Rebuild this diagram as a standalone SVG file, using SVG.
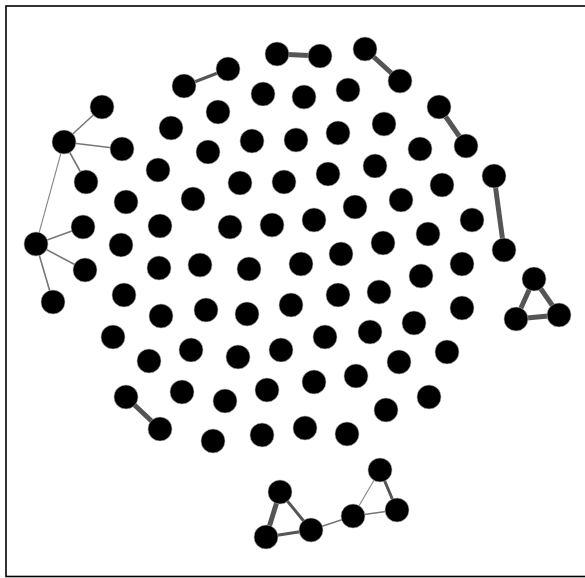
<svg xmlns="http://www.w3.org/2000/svg" width="585" height="578" viewBox="0 0 585 578">
<style>
.n{fill:#000;stroke:#bbb;stroke-width:0.6}
.e{stroke:#555;fill:none;stroke-linecap:butt}
.w5{stroke-width:5}
.w3{stroke-width:3}
.w2{stroke-width:1.6;stroke:#777}
.w1{stroke-width:1.1;stroke:#888}
</style>
<rect x="0" y="0" width="585" height="578" fill="#fff"/>
<rect x="6" y="6" width="600" height="570.5" fill="none" stroke="#000" stroke-width="1.6"/>
<g id="edges">
<line class="e w5" x1="277" y1="54" x2="320" y2="56"/>
<line class="e w5" x1="365" y1="49" x2="400" y2="81"/>
<line class="e w3" x1="184" y1="86" x2="228" y2="69"/>
<line class="e w5" x1="439" y1="107" x2="466" y2="146"/>
<line class="e w5" x1="494" y1="176" x2="504" y2="250"/>
<line class="e w5" x1="534" y1="279" x2="516" y2="319"/>
<line class="e w5" x1="534" y1="279" x2="559" y2="315"/>
<line class="e w5" x1="516" y1="319" x2="559" y2="315"/>
<line class="e w5" x1="126" y1="397" x2="160" y2="429"/>
<line class="e w5" x1="280" y1="492" x2="266" y2="537"/>
<line class="e w3" x1="280" y1="492" x2="311" y2="530"/>
<line class="e w3" x1="266" y1="537" x2="311" y2="530"/>
<line class="e w2" x1="311" y1="530" x2="353" y2="516"/>
<line class="e w1" x1="353" y1="516" x2="380" y2="470"/>
<line class="e w2" x1="353" y1="516" x2="397" y2="510"/>
<line class="e w3" x1="380" y1="470" x2="397" y2="510"/>
<line class="e w2" x1="64" y1="142" x2="102" y2="107"/>
<line class="e w2" x1="64" y1="142" x2="122" y2="149"/>
<line class="e w2" x1="64" y1="142" x2="86" y2="182"/>
<line class="e w1" x1="64" y1="142" x2="36" y2="244"/>
<line class="e w2" x1="36" y1="244" x2="83" y2="227"/>
<line class="e w2" x1="36" y1="244" x2="85" y2="270"/>
<line class="e w2" x1="36" y1="244" x2="53" y2="302"/>
</g>
<g id="nodes">
<circle id="n1" class="n" cx="277" cy="54" r="12"/>
<circle id="n2" class="n" cx="320" cy="56" r="12"/>
<circle id="n3" class="n" cx="365" cy="49" r="12"/>
<circle id="n4" class="n" cx="228" cy="69" r="12"/>
<circle id="n5" class="n" cx="400" cy="81" r="12"/>
<circle id="n6" class="n" cx="184" cy="86" r="12"/>
<circle id="n7" class="n" cx="263" cy="94" r="12"/>
<circle id="n8" class="n" cx="304" cy="97" r="12"/>
<circle id="n9" class="n" cx="348" cy="90" r="12"/>
<circle id="n10" class="n" cx="102" cy="107" r="12"/>
<circle id="n11" class="n" cx="218" cy="112" r="12"/>
<circle id="n12" class="n" cx="439" cy="107" r="12"/>
<circle id="n13" class="n" cx="171" cy="128" r="12"/>
<circle id="n14" class="n" cx="252" cy="141" r="12"/>
<circle id="n15" class="n" cx="296" cy="140" r="12"/>
<circle id="n16" class="n" cx="338" cy="133" r="12"/>
<circle id="n17" class="n" cx="384" cy="124" r="12"/>
<circle id="n18" class="n" cx="64" cy="142" r="12"/>
<circle id="n19" class="n" cx="122" cy="149" r="12"/>
<circle id="n20" class="n" cx="208" cy="152" r="12"/>
<circle id="n21" class="n" cx="420" cy="149" r="12"/>
<circle id="n22" class="n" cx="466" cy="146" r="12"/>
<circle id="n23" class="n" cx="158" cy="170" r="12"/>
<circle id="n24" class="n" cx="328" cy="174" r="12"/>
<circle id="n25" class="n" cx="375" cy="166" r="12"/>
<circle id="n26" class="n" cx="494" cy="176" r="12"/>
<circle id="n27" class="n" cx="86" cy="182" r="12"/>
<circle id="n28" class="n" cx="240" cy="183" r="12"/>
<circle id="n29" class="n" cx="284" cy="182" r="12"/>
<circle id="n30" class="n" cx="442" cy="185" r="12"/>
<circle id="n31" class="n" cx="126" cy="202" r="12"/>
<circle id="n32" class="n" cx="193" cy="199" r="12"/>
<circle id="n33" class="n" cx="355" cy="207" r="12"/>
<circle id="n34" class="n" cx="401" cy="200" r="12"/>
<circle id="n35" class="n" cx="83" cy="227" r="12"/>
<circle id="n36" class="n" cx="160" cy="226" r="12"/>
<circle id="n37" class="n" cx="230" cy="227" r="12"/>
<circle id="n38" class="n" cx="272" cy="225" r="12"/>
<circle id="n39" class="n" cx="314" cy="220" r="12"/>
<circle id="n40" class="n" cx="472" cy="220" r="12"/>
<circle id="n41" class="n" cx="428" cy="234" r="12"/>
<circle id="n42" class="n" cx="383" cy="243" r="12"/>
<circle id="n43" class="n" cx="36" cy="244" r="12"/>
<circle id="n44" class="n" cx="121" cy="245" r="12"/>
<circle id="n45" class="n" cx="341" cy="254" r="12"/>
<circle id="n46" class="n" cx="504" cy="250" r="12"/>
<circle id="n47" class="n" cx="85" cy="270" r="12"/>
<circle id="n48" class="n" cx="159" cy="268" r="12"/>
<circle id="n49" class="n" cx="200" cy="265" r="12"/>
<circle id="n50" class="n" cx="249" cy="269" r="12"/>
<circle id="n51" class="n" cx="301" cy="264" r="12"/>
<circle id="n52" class="n" cx="462" cy="264" r="12"/>
<circle id="n53" class="n" cx="421" cy="276" r="12"/>
<circle id="n54" class="n" cx="534" cy="279" r="12"/>
<circle id="n55" class="n" cx="53" cy="302" r="12"/>
<circle id="n56" class="n" cx="124" cy="295" r="12"/>
<circle id="n57" class="n" cx="161" cy="316" r="12"/>
<circle id="n58" class="n" cx="206" cy="310" r="12"/>
<circle id="n59" class="n" cx="247" cy="314" r="12"/>
<circle id="n60" class="n" cx="291" cy="305" r="12"/>
<circle id="n61" class="n" cx="338" cy="295" r="12"/>
<circle id="n62" class="n" cx="379" cy="292" r="12"/>
<circle id="n63" class="n" cx="462" cy="308" r="12"/>
<circle id="n64" class="n" cx="414" cy="323" r="12"/>
<circle id="n65" class="n" cx="516" cy="319" r="12"/>
<circle id="n66" class="n" cx="559" cy="315" r="12"/>
<circle id="n67" class="n" cx="113" cy="337" r="12"/>
<circle id="n68" class="n" cx="325" cy="337" r="12"/>
<circle id="n69" class="n" cx="370" cy="332" r="12"/>
<circle id="n70" class="n" cx="149" cy="361" r="12"/>
<circle id="n71" class="n" cx="191" cy="350" r="12"/>
<circle id="n72" class="n" cx="238" cy="357" r="12"/>
<circle id="n73" class="n" cx="281" cy="350" r="12"/>
<circle id="n74" class="n" cx="399" cy="362" r="12"/>
<circle id="n75" class="n" cx="447" cy="352" r="12"/>
<circle id="n76" class="n" cx="356" cy="376" r="12"/>
<circle id="n77" class="n" cx="314" cy="382" r="12"/>
<circle id="n78" class="n" cx="126" cy="397" r="12"/>
<circle id="n79" class="n" cx="182" cy="392" r="12"/>
<circle id="n80" class="n" cx="225" cy="401" r="12"/>
<circle id="n81" class="n" cx="267" cy="390" r="12"/>
<circle id="n82" class="n" cx="429" cy="397" r="12"/>
<circle id="n83" class="n" cx="386" cy="410" r="12"/>
<circle id="n84" class="n" cx="160" cy="429" r="12"/>
<circle id="n85" class="n" cx="213" cy="441" r="12"/>
<circle id="n86" class="n" cx="262" cy="435" r="12"/>
<circle id="n87" class="n" cx="305" cy="428" r="12"/>
<circle id="n88" class="n" cx="347" cy="434" r="12"/>
<circle id="n89" class="n" cx="380" cy="470" r="12"/>
<circle id="n90" class="n" cx="280" cy="492" r="12"/>
<circle id="n91" class="n" cx="397" cy="510" r="12"/>
<circle id="n92" class="n" cx="353" cy="516" r="12"/>
<circle id="n93" class="n" cx="311" cy="530" r="12"/>
<circle id="n94" class="n" cx="266" cy="537" r="12"/>
</g>
</svg>
